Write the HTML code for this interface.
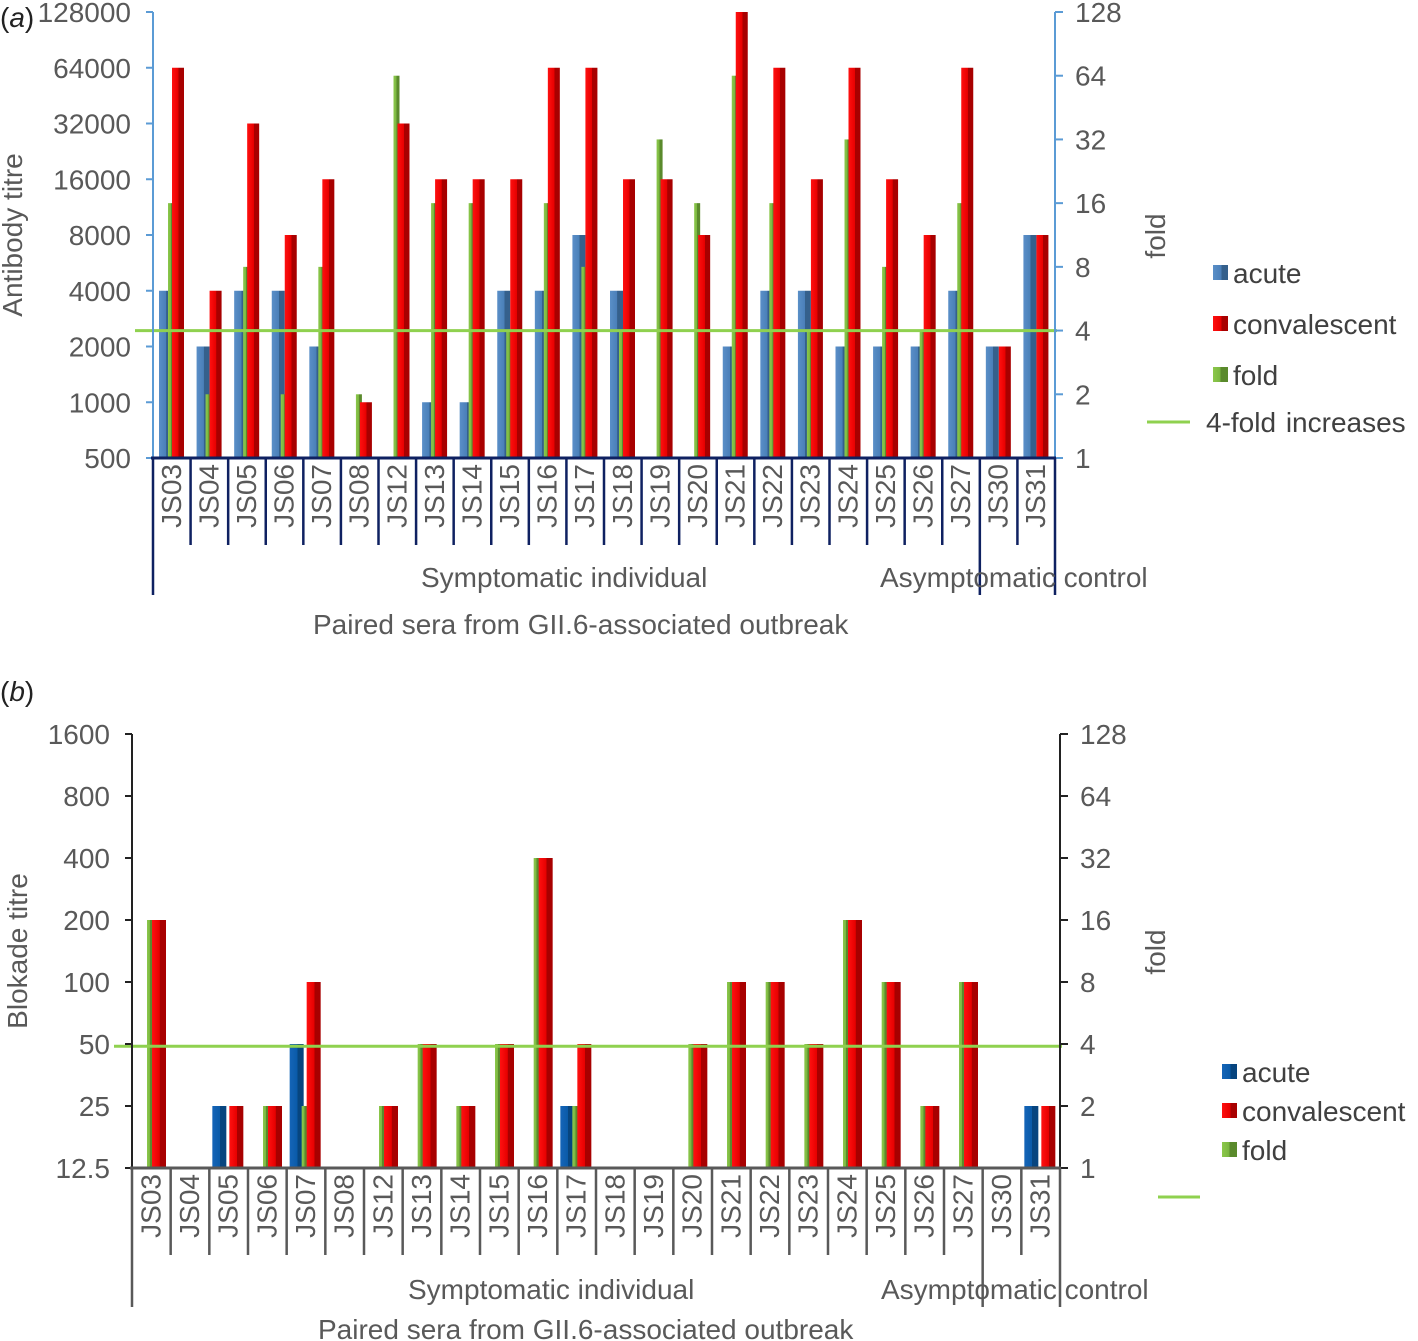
<!DOCTYPE html>
<html><head><meta charset="utf-8"><style>
html,body{margin:0;padding:0;background:#fff;}
svg{display:block;font-family:"Liberation Sans",Arial,sans-serif;}
</style></head><body>
<svg id="chart" width="1418" height="1341" viewBox="0 0 1418 1341" xmlns="http://www.w3.org/2000/svg">
<defs>
<linearGradient id="gBlue" x1="0" x2="1"><stop offset="0" stop-color="#5a8fc8"/><stop offset="0.55" stop-color="#4a7fb8"/><stop offset="0.56" stop-color="#35608c"/><stop offset="1" stop-color="#35608c"/></linearGradient>
<linearGradient id="gBlue2" x1="0" x2="1"><stop offset="0" stop-color="#1565b8"/><stop offset="0.55" stop-color="#0a5aa8"/><stop offset="0.56" stop-color="#07457f"/><stop offset="1" stop-color="#07457f"/></linearGradient>
<linearGradient id="gRed" x1="0" x2="1"><stop offset="0" stop-color="#ff1010"/><stop offset="0.55" stop-color="#e60000"/><stop offset="0.56" stop-color="#a80000"/><stop offset="1" stop-color="#a80000"/></linearGradient>
<linearGradient id="gGreen" x1="0" x2="1"><stop offset="0" stop-color="#8cc84b"/><stop offset="0.5" stop-color="#7ab640"/><stop offset="0.51" stop-color="#5a8a2c"/><stop offset="1" stop-color="#5a8a2c"/></linearGradient>
</defs>
<g id="layer"></g>
</svg>
<script>
// ---- shared categories ----
const categories = ["JS03","JS04","JS05","JS06","JS07","JS08","JS12","JS13","JS14","JS15","JS16","JS17","JS18","JS19","JS20","JS21","JS22","JS23","JS24","JS25","JS26","JS27","JS30","JS31"];
// ---- panel (a) data ----
const aAcute = [4000,2000,4000,4000,2000,null,null,1000,1000,4000,4000,8000,4000,null,null,2000,4000,4000,2000,2000,2000,4000,2000,8000];
const aConv  = [64000,4000,32000,8000,16000,1000,32000,16000,16000,16000,64000,64000,16000,16000,8000,128000,64000,16000,64000,16000,8000,64000,2000,8000];
const aFold  = [16,2,8,2,8,2,64,16,16,4,16,8,4,32,16,64,16,4,32,8,4,16,1,1];
const aLeftTicks = [500,1000,2000,4000,8000,16000,32000,64000,128000];
const aRightTicks = [1,2,4,8,16,32,64,128];
const aThreshold = 4;
// ---- panel (b) data ----
const bAcute = [null,null,25,null,50,null,null,null,null,null,null,25,null,null,null,null,null,null,null,null,null,null,null,25];
const bConv  = [200,null,25,25,100,null,25,50,25,50,400,50,null,null,50,100,100,50,200,100,25,100,null,25];
const bFold  = [16,null,1,2,2,null,2,4,2,4,32,2,null,null,4,8,8,4,16,8,2,8,null,1];
const bLeftTicks = [12.5,25,50,100,200,400,800,1600];
const bRightTicks = [1,2,4,8,16,32,64,128];
const bThreshold = 3.9;

const NS = "http://www.w3.org/2000/svg";
const layer = document.getElementById('layer');
function mk(tag, attrs, parent, txt){
  const e = document.createElementNS(NS, tag);
  for (const k in attrs) e.setAttribute(k, attrs[k]);
  if (txt !== undefined) e.textContent = txt;
  (parent || layer).appendChild(e);
  return e;
}

function drawPanel(p){
  const g = mk('g', {});
  
  
  const n = categories.length;
  const cw = (p.x1 - p.x0) / n;
  const yL = v => p.yb - (Math.log2(v / p.lMin) / Math.log2(p.lMax / p.lMin)) * (p.yb - p.yt);
  const yR = v => p.yb - (Math.log2(v / p.rMin) / Math.log2(p.rMax / p.rMin)) * (p.yb - p.yt);
  for (let i = 0; i < n; i++){
    const cx = p.x0 + i * cw;
    if (p.acute[i]){
      const y = yL(p.acute[i]);
      const r = mk('rect', {x: cx + p.off[0], y: y, width: p.wid[0], height: p.yb - y, fill: p.blueFill}, g);
      
      
    }
    if (p.fold[i] && p.fold[i] > 1){
      const y = yR(p.fold[i]);
      const r = mk('rect', {x: cx + p.off[1], y: y, width: p.wid[1], height: p.yb - y, fill: 'url(#gGreen)'}, g);
      
      
    }
    if (p.conv[i]){
      const y = yL(p.conv[i]);
      const r = mk('rect', {x: cx + p.off[2], y: y, width: p.wid[2], height: p.yb - y, fill: 'url(#gRed)'}, g);
      
      
    }
  }
  const ty = yR(p.threshold);
  const tl = mk('line', {x1: p.x0 - 18, x2: p.x1 + 2, y1: ty, y2: ty, stroke: '#8fd14f', 'stroke-width': 3}, g);
  
  
  const la = mk('line', {x1: p.x0, x2: p.x0, y1: p.yt, y2: p.yb, stroke: p.leftAxisColor, 'stroke-width': 2}, g);
  
  
  p.lTicks.forEach(v => {
    const y = yL(v);
    mk('line', {x1: p.x0 - 7, x2: p.x0, y1: y, y2: y, stroke: p.leftAxisColor, 'stroke-width': 2}, g);
    const t = mk('text', {x: p.x0 - 22, y: y + 10, 'text-anchor': 'end', 'font-size': 28, fill: '#595959'}, g, String(v));
    
    
  });
  const ra = mk('line', {x1: p.x1, x2: p.x1, y1: p.yt, y2: p.yb, stroke: p.rightAxisColor, 'stroke-width': 2}, g);
  
  
  p.rTicks.forEach(v => {
    const y = yR(v);
    mk('line', {x1: p.x1, x2: p.x1 + 8, y1: y, y2: y, stroke: p.rightAxisColor, 'stroke-width': 2}, g);
    const t = mk('text', {x: p.x1 + 20, y: y + 10, 'font-size': 28, fill: '#595959'}, g, String(v));
    
    
  });
  const ba = mk('line', {x1: p.x0 - 2, x2: p.x1 + 1, y1: p.yb, y2: p.yb, stroke: p.bottomColor, 'stroke-width': 3}, g);
  
  
  for (let i = 0; i <= n; i++){
    const x = p.x0 + i * cw;
    const long = (i === 0 || i === 22 || i === n);
    mk('line', {x1: x, x2: x, y1: p.yb, y2: long ? p.groupBottom : p.catBottom, stroke: p.bottomColor, 'stroke-width': 2.5}, g);
  }
  for (let i = 0; i < n; i++){
    const cx = p.x0 + (i + 0.5) * cw + 9;
    const t = mk('text', {x: cx, y: p.yb + 6, transform: 'rotate(-90 ' + cx + ' ' + (p.yb + 6) + ')', 'text-anchor': 'end', 'font-size': 28, fill: '#595959'}, g, categories[i]);
    
    
  }
  const s = mk('text', {x: p.symX, y: p.groupTextY, 'font-size': 28, fill: '#595959'}, g, 'Symptomatic individual');
  
  
  const a = mk('text', {x: p.asyX, y: p.groupTextY, 'font-size': 28, fill: '#595959'}, g, 'Asymptomatic control');
  
  
  const xt = mk('text', {x: p.xTitleX, y: p.xTitleY, 'font-size': 28, fill: '#595959'}, g, 'Paired sera from GII.6-associated outbreak');
  
  
  const yt = mk('text', {x: p.yTitleX, y: (p.yt + p.yb) / 2, transform: 'rotate(-90 ' + p.yTitleX + ' ' + (p.yt + p.yb) / 2 + ')', 'text-anchor': 'middle', 'font-size': 28, fill: '#595959'}, g, p.yTitle);
  
  
  const ry = p.foldTitleY;
  const rt = mk('text', {x: 1165, y: ry, transform: 'rotate(-90 1165 ' + ry + ')', 'text-anchor': 'middle', 'font-size': 28, fill: '#595959'}, g, 'fold');
  
  
  const pl = mk('text', {x: 0, y: p.panelLabelY, 'font-size': 28, fill: '#222'}, g);
  
  
  pl.innerHTML = '(<tspan font-style="italic">' + p.letter + '</tspan>)';
  const L = p.legend;
  const items = [['acute', p.blueFill], ['convalescent', 'url(#gRed)'], ['fold', 'url(#gGreen)']];
  items.forEach((it, k) => {
    const y = L.y0 + k * L.dy;
    const sq = mk('rect', {x: L.x, y: y - 8, width: 15, height: 15, fill: it[1]}, g);
    
    
    const t = mk('text', {x: L.x + 20, y: y + 10, 'font-size': 28, fill: '#404040'}, g, it[0]);
    
    
  });
  const ll = mk('line', {x1: L.lineX1, x2: L.lineX2, y1: L.lineY, y2: L.lineY, stroke: '#8fd14f', 'stroke-width': 3}, g);
  
  
  if (L.lineText){
    const t = mk('text', {x: L.lineX2 + 16, y: L.lineY + 10, 'font-size': 28, fill: '#404040', 'word-spacing': 2}, g, L.lineText);
    
    
  }
}

drawPanel({name:'panel-a', letter:'a', panelLabelY:27,
  x0:153, x1:1055, yt:12, yb:458, lMin:500, lMax:128000, rMin:1, rMax:128,
  acute:aAcute, conv:aConv, fold:aFold, lTicks:aLeftTicks, rTicks:aRightTicks, threshold:aThreshold,
  off:[6,15,19], wid:[13,6,12], blueFill:'url(#gBlue)',
  leftAxisColor:'#5b9bd5', rightAxisColor:'#5b9bd5', bottomColor:'#0f2161',
  catBottom:545, groupBottom:595, groupTextY:587, symX:421, asyX:880, xTitleX:313, xTitleY:634,
  yTitle:'Antibody titre', yTitleX:22, foldTitleY:236,
  legend:{x:1213, y0:273, dy:51, lineX1:1147, lineX2:1190, lineY:422, lineText:'4-fold increases'}});

drawPanel({name:'panel-b', letter:'b', panelLabelY:701,
  x0:132, x1:1060, yt:734, yb:1168, lMin:12.5, lMax:1600, rMin:1, rMax:128,
  acute:bAcute, conv:bConv, fold:bFold, lTicks:bLeftTicks, rTicks:bRightTicks, threshold:bThreshold,
  off:[3,15,20], wid:[14,6,14], blueFill:'url(#gBlue2)',
  leftAxisColor:'#222', rightAxisColor:'#222', bottomColor:'#595959',
  catBottom:1255, groupBottom:1307, groupTextY:1299, symX:408, asyX:881, xTitleX:318, xTitleY:1339,
  yTitle:'Blokade titre', yTitleX:27, foldTitleY:952,
  legend:{x:1222, y0:1072, dy:39, lineX1:1158, lineX2:1200, lineY:1197, lineText:null}});
</script>
</body></html>
